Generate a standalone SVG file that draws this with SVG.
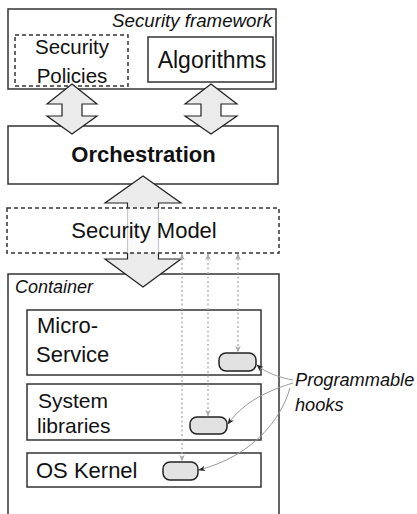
<svg xmlns="http://www.w3.org/2000/svg" width="417" height="514" viewBox="0 0 417 514">
<style>
.box{fill:#fff;stroke:#333;stroke-width:1.5}
.dash{stroke-dasharray:4,3}
.t{font-family:"Liberation Sans",Arial,sans-serif;fill:#111}
.it{font-style:italic}
.barrow{fill:#ebebeb;stroke:#222;stroke-width:1.2;stroke-linejoin:miter}
.hook{fill:#e2e2e2;stroke:#222;stroke-width:1.5}
.dot{fill:none;stroke:#aaa;stroke-width:1.3;stroke-dasharray:2,2.5}
.cur{fill:none;stroke:#999;stroke-width:1}
</style>
<defs>
<marker id="ga" viewBox="0 0 10 10" refX="9" refY="5" markerWidth="7" markerHeight="7" orient="auto-start-reverse" markerUnits="userSpaceOnUse">
<path d="M0,1 L10,5 L0,9 L3,5 Z" fill="#aaa"/>
</marker>
<marker id="ba" viewBox="0 0 10 10" refX="9" refY="5" markerWidth="7" markerHeight="7" orient="auto" markerUnits="userSpaceOnUse">
<path d="M0,1 L10,5 L0,9 L3,5 Z" fill="#222"/>
</marker>
</defs>

<g id="framework">
<rect class="box" x="8" y="9" width="268" height="80"/>
<text class="t it" x="272" y="27" font-size="18.7" text-anchor="end">Security framework</text>
</g>
<g id="policies">
<rect class="box dash" x="15" y="35" width="113" height="51"/>
<text class="t" x="72" y="54" font-size="20.5" text-anchor="middle">Security</text>
<text class="t" x="72" y="83" font-size="20.5" text-anchor="middle">Policies</text>
</g>
<g id="algorithms">
<rect class="box" x="148" y="37" width="125" height="45"/>
<text class="t" x="212" y="68" font-size="23" text-anchor="middle">Algorithms</text>
</g>
<g id="orchestration">
<rect class="box" x="8" y="126" width="270" height="58"/>
<text class="t" x="143.5" y="162" font-size="22" font-weight="bold" text-anchor="middle">Orchestration</text>
</g>
<g id="container">
<rect class="box" x="8" y="274" width="271" height="260"/>
<text class="t it" x="15" y="293" font-size="18">Container</text>
</g>
<g id="microservice">
<rect class="box" x="27" y="310" width="234" height="65"/>
<text class="t" x="37" y="333" font-size="22">Micro-</text>
<text class="t" x="36" y="362" font-size="22">Service</text>
<rect class="hook" x="219" y="353" width="37" height="18" rx="7"/>
</g>
<g id="syslibs">
<rect class="box" x="27" y="384" width="234" height="56"/>
<text class="t" x="38" y="408" font-size="21">System</text>
<text class="t" x="37" y="433" font-size="21">libraries</text>
<rect class="hook" x="190" y="417" width="37" height="17" rx="7"/>
</g>
<g id="kernel">
<rect class="box" x="27" y="453" width="234" height="34"/>
<text class="t" x="36" y="478" font-size="22">OS Kernel</text>
<rect class="hook" x="163" y="462" width="35" height="18" rx="7"/>
</g>

<g id="connectors">
<polygon class="barrow" points="72,84 97,104 82,104 82,116 97,116 72,134 47,116 62,116 62,104 47,104"/>
<polygon class="barrow" points="211,84 237,104 221,104 221,116 237,116 211,134 185,116 201,116 201,104 185,104"/>
<polygon class="barrow" points="143,176 181,203 158.5,203 158.5,259 181,259 143,287 105,259 127.5,259 127.5,203 105,203"/>
</g>

<g id="securitymodel">
<rect x="7" y="208" width="272" height="45" fill="#fff" fill-opacity="0.75" stroke="#333" stroke-width="1.5" stroke-dasharray="4,3"/>
<text class="t" x="144" y="238" font-size="22" text-anchor="middle">Security Model</text>
</g>

<g id="hook-links">
<line class="dot" x1="238" y1="254" x2="238" y2="352" marker-start="url(#ga)" marker-end="url(#ga)"/>
<line class="dot" x1="208" y1="254" x2="208" y2="416" marker-start="url(#ga)" marker-end="url(#ga)"/>
<line class="dot" x1="182" y1="254" x2="182" y2="461" marker-start="url(#ga)" marker-end="url(#ga)"/>
<path class="cur" d="M293,380 C281,378 266,373 257,365" marker-end="url(#ba)"/>
<path class="cur" d="M293,383 C270,390 244,401 228,424" marker-end="url(#ba)"/>
<path class="cur" d="M290,388 C281,420 252,456 199,470" marker-end="url(#ba)"/>
</g>

<g id="label-hooks">
<text class="t it" x="295" y="386" font-size="18.2">Programmable</text>
<text class="t it" x="295" y="411" font-size="18.2">hooks</text>
</g>
</svg>
